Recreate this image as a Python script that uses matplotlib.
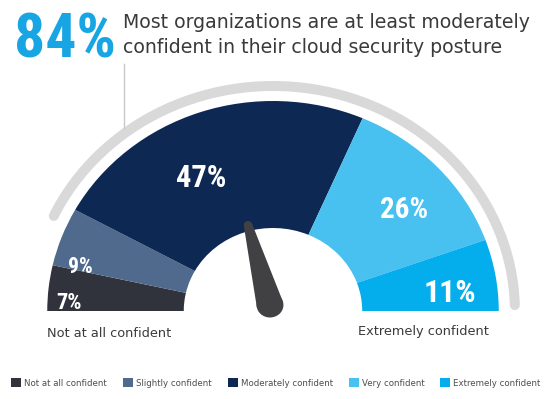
import matplotlib
import matplotlib.pyplot as plt
import numpy as np
from matplotlib.patches import Arc, Circle, Polygon
from matplotlib.lines import Line2D
matplotlib.use("Agg")

#survey data
categories = ["Not at all confident", "Slightly confident", "Moderately confident",
              "Very confident", "Extremely confident"]
values = [7, 9, 47, 26, 11]
colors = ["#30333b", "#4f6a8c", "#0c2853", "#48c0f0", "#04adeb"]
headline = "84%"
subtitle = ["Most organizations are at least moderately",
            "confident in their cloud security posture"]

#label placement (image pixels) and sizes
label_pos = [(69, 309), (80, 273), (201, 187), (404, 218), (450, 302)]
label_size = [16, 15.5, 22, 21, 23]

W, H = 550, 399
SX = 1.075  #the source picture is stretched a bit horizontally
NARROW = ["Roboto Condensed", "Open Sans Condensed", "DejaVu Sans Condensed",
          "Liberation Sans Narrow", "Roboto", "DejaVu Sans"]


def px(x, y):
    #image pixel -> data coords of the gauge axes
    return x / SX, H - y


def fit_width(txt, max_px):
    #shrink a text until it is no wider than max_px
    r = fig.canvas.get_renderer()
    w = txt.get_window_extent(r).width
    if w > max_px:
        txt.set_fontsize(txt.get_fontsize() * max_px / w)


fig = plt.figure(figsize=(W / 100, H / 100), dpi=100)
ax = fig.add_axes([0, 0, 1, 1])

cx, cy = px(273, 311)
r_out, r_in = 210, 83

#half donut: add an invisible wedge as big as the total
wedges, _ = ax.pie(values + [sum(values)], radius=r_out, center=(cx, cy),
                   startangle=180, counterclock=False,
                   colors=colors + ["none"],
                   wedgeprops=dict(width=r_out - r_in, linewidth=0))

#grey rim
ax.add_patch(Arc((cx, cy), 2 * 225, 2 * 225, theta1=1.5, theta2=155,
                 lw=7.2, color="#d9d9d9", capstyle="round"))

#needle
b = np.array(px(270, 305))
t = np.array(px(248, 225))
rb, rt = 12.5, 4
u = (t - b) / np.linalg.norm(t - b)
n = np.array([-u[1], u[0]])
needle_col = "#414143"
ax.add_patch(Polygon([b + rb * n, t + rt * n, t - rt * n, b - rb * n],
                     closed=True, color=needle_col, lw=0))
ax.add_patch(Circle(b, rb, color=needle_col, lw=0))
ax.add_patch(Circle(t, rt, color=needle_col, lw=0))

ax.set_aspect("auto")
ax.set_xlim(0, W / SX)
ax.set_ylim(0, H)
ax.axis("off")

#percent labels
for v, (lx, ly), s in zip(values, label_pos, label_size):
    x, y = px(lx, ly)
    lab = ax.text(x, y, f"{v}%", ha="center", va="baseline", color="white",
                  fontsize=s, fontweight="bold", family=NARROW)
    fit_width(lab, s * 2.35)

#header
big = fig.text(14 / W, 1 - 57 / H, headline, color="#17a6e3", fontsize=50,
               fontweight="bold", family=NARROW, va="baseline", ha="left")
fit_width(big, 102)
fig.text(123 / W, 1 - 28 / H, subtitle[0], color="#3a3a3a", fontsize=13.6,
         family="DejaVu Sans", va="baseline")
fig.text(123 / W, 1 - 53 / H, subtitle[1], color="#3a3a3a", fontsize=13.6,
         family="DejaVu Sans", va="baseline")
fig.add_artist(Line2D([124 / W, 124 / W], [1 - 64 / H, 1 - 128 / H],
                      transform=fig.transFigure, color="#c8c8c8", lw=1))

#scale ends
fig.text(47 / W, 1 - 337 / H, categories[0], color="#3a3a3a", fontsize=9.3,
         family="DejaVu Sans", va="baseline", ha="left")
fig.text(489 / W, 1 - 335 / H, categories[-1], color="#3a3a3a", fontsize=9.3,
         family="DejaVu Sans", va="baseline", ha="right")

#legend
fig.legend(wedges[:5], categories, loc="center", ncol=5,
           bbox_to_anchor=(276 / W, 1 - 383 / H), bbox_transform=fig.transFigure,
           frameon=False, fontsize=6.2, labelcolor="#4d4d4d",
           handlelength=1.16, handleheight=1.16, handletextpad=0.35,
           columnspacing=1.86, borderpad=0, borderaxespad=0)

fig.savefig("out.png", dpi=100)
